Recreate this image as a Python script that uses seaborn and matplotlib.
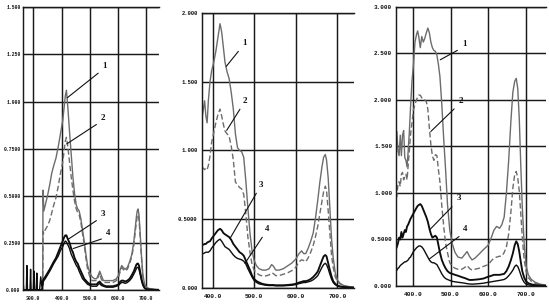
import matplotlib
matplotlib.use("Agg")
import matplotlib.pyplot as plt
import seaborn as sns
import pandas as pd

# ---------------- DATA ----------------
# Panel 1 (left)
wl_a = [262, 266, 275, 277, 279, 288, 290, 292, 300, 302,
        304, 310, 312, 314, 322, 326, 330, 333, 334, 337,
        342, 350, 358, 365, 372, 380, 388, 396, 404, 409,
        413, 417, 422, 428, 434, 440, 446, 452, 457, 462,
        468, 474, 480, 486, 492, 500, 508, 516, 524, 530,
        535, 540, 548, 558, 570, 582, 594, 602, 608, 613,
        618, 625, 633, 641, 649, 656, 661, 665, 668, 671,
        674, 678, 683, 688, 694, 700, 710, 722, 735, 745]
a1 = [0, 0, 0, 0, 0, 0, 0, 0, 0, 0,
      0, 0, 0, 0, 0, 0, 0, 0, 0.53, 0.42,
      0.45, 0.50, 0.56, 0.62, 0.66, 0.70, 0.76, 0.83, 0.90, 0.97,
      1.03, 1.06, 0.97, 0.84, 0.72, 0.60, 0.51, 0.45, 0.43, 0.42,
      0.38, 0.32, 0.26, 0.19, 0.13, 0.09, 0.07, 0.06, 0.06, 0.08,
      0.10, 0.08, 0.05, 0.05, 0.05, 0.05, 0.06, 0.08, 0.11, 0.13,
      0.12, 0.11, 0.12, 0.15, 0.19, 0.26, 0.33, 0.39, 0.42, 0.43,
      0.40, 0.31, 0.18, 0.08, 0.03, 0.015, 0.008, 0.005, 0.003, 0.002]
a2 = [0, 0, 0, 0, 0, 0, 0, 0, 0, 0,
      0, 0, 0, 0, 0, 0, 0, 0, 0.31, 0.30,
      0.32, 0.34, 0.37, 0.41, 0.45, 0.49, 0.55, 0.62, 0.68, 0.74,
      0.79, 0.81, 0.76, 0.68, 0.60, 0.53, 0.47, 0.43, 0.41, 0.40,
      0.36, 0.30, 0.24, 0.17, 0.11, 0.07, 0.05, 0.05, 0.05, 0.07,
      0.09, 0.06, 0.04, 0.04, 0.04, 0.04, 0.05, 0.07, 0.10, 0.12,
      0.11, 0.10, 0.11, 0.14, 0.18, 0.24, 0.31, 0.36, 0.39, 0.40,
      0.38, 0.29, 0.17, 0.07, 0.03, 0.012, 0.006, 0.004, 0.002, 0.001]
a3 = [0, 0, 0, 0, 0, 0, 0, 0, 0, 0,
      0, 0, 0, 0, 0, 0, 0, 0.03, 0.05, 0.06,
      0.07, 0.09, 0.11, 0.13, 0.15, 0.17, 0.20, 0.23, 0.26, 0.28,
      0.29, 0.29, 0.27, 0.25, 0.22, 0.20, 0.17, 0.15, 0.14, 0.12,
      0.10, 0.08, 0.06, 0.05, 0.04, 0.03, 0.03, 0.03, 0.03, 0.04,
      0.045, 0.035, 0.025, 0.02, 0.02, 0.02, 0.025, 0.03, 0.045, 0.05,
      0.05, 0.045, 0.05, 0.06, 0.08, 0.10, 0.12, 0.135, 0.14, 0.14,
      0.13, 0.10, 0.06, 0.03, 0.01, 0.005, 0.003, 0.002, 0.001, 0.001]
a4 = [0.07, 0, 0, 0.13, 0, 0, 0.11, 0, 0, 0.10,
      0, 0, 0.09, 0, 0, 0.07, 0.02, 0.03, 0.04, 0.05,
      0.06, 0.08, 0.10, 0.12, 0.14, 0.16, 0.18, 0.21, 0.23, 0.25,
      0.26, 0.255, 0.24, 0.22, 0.19, 0.17, 0.15, 0.13, 0.12, 0.10,
      0.08, 0.06, 0.05, 0.04, 0.03, 0.025, 0.02, 0.02, 0.02, 0.03,
      0.035, 0.025, 0.02, 0.015, 0.015, 0.015, 0.02, 0.025, 0.035, 0.04,
      0.04, 0.035, 0.04, 0.05, 0.065, 0.085, 0.10, 0.115, 0.12, 0.12,
      0.11, 0.085, 0.05, 0.025, 0.01, 0.004, 0.002, 0.001, 0.001, 0.001]

# Panel 2 (middle)
wl_b = [374, 378, 381, 384, 387, 390, 394, 398, 403, 408,
        413, 418, 422, 426, 430, 435, 440, 445, 450, 455,
        460, 465, 470, 475, 480, 485, 490, 495, 500, 506,
        512, 520, 528, 536, 542, 546, 552, 560, 570, 580,
        590, 600, 608, 614, 619, 624, 630, 636, 642, 648,
        653, 658, 663, 667, 671, 674, 678, 682, 686, 690,
        695, 700, 706, 714, 724, 740]
b1 = [1.22, 1.30, 1.36, 1.25, 1.20, 1.36, 1.50, 1.58, 1.64, 1.72,
      1.82, 1.92, 1.86, 1.75, 1.64, 1.57, 1.52, 1.42, 1.30, 1.12,
      1.02, 1.00, 0.99, 0.95, 0.78, 0.58, 0.40, 0.27, 0.20, 0.16,
      0.14, 0.13, 0.13, 0.14, 0.17, 0.16, 0.13, 0.13, 0.14, 0.16,
      0.18, 0.21, 0.25, 0.27, 0.25, 0.25, 0.29, 0.34, 0.40, 0.52,
      0.64, 0.77, 0.88, 0.95, 0.97, 0.93, 0.80, 0.58, 0.36, 0.22,
      0.11, 0.06, 0.035, 0.02, 0.012, 0.006]
b2 = [0.88, 0.87, 0.86, 0.87, 0.86, 0.89, 0.96, 1.06, 1.13, 1.20,
      1.26, 1.30, 1.25, 1.19, 1.14, 1.12, 1.10, 1.03, 0.93, 0.77,
      0.75, 0.73, 0.72, 0.68, 0.54, 0.37, 0.26, 0.17, 0.13, 0.11,
      0.095, 0.088, 0.088, 0.095, 0.11, 0.105, 0.09, 0.09, 0.10, 0.11,
      0.125, 0.15, 0.19, 0.205, 0.20, 0.19, 0.22, 0.26, 0.31, 0.38,
      0.45, 0.54, 0.63, 0.70, 0.74, 0.71, 0.56, 0.40, 0.24, 0.15,
      0.08, 0.05, 0.03, 0.02, 0.01, 0.005]
b3 = [0.31, 0.315, 0.32, 0.32, 0.33, 0.335, 0.34, 0.36, 0.38, 0.40,
      0.42, 0.43, 0.42, 0.40, 0.39, 0.38, 0.37, 0.35, 0.32, 0.30,
      0.28, 0.26, 0.25, 0.235, 0.20, 0.165, 0.13, 0.09, 0.065, 0.05,
      0.04, 0.03, 0.025, 0.022, 0.022, 0.022, 0.02, 0.02, 0.02, 0.022,
      0.025, 0.03, 0.04, 0.045, 0.05, 0.05, 0.055, 0.065, 0.08, 0.10,
      0.12, 0.16, 0.20, 0.23, 0.24, 0.23, 0.18, 0.13, 0.085, 0.05,
      0.03, 0.018, 0.012, 0.008, 0.005, 0.003]
b4 = [0.25, 0.25, 0.255, 0.26, 0.26, 0.26, 0.27, 0.29, 0.31, 0.33,
      0.345, 0.355, 0.34, 0.32, 0.30, 0.29, 0.28, 0.26, 0.24, 0.225,
      0.215, 0.21, 0.205, 0.195, 0.175, 0.14, 0.11, 0.08, 0.055, 0.04,
      0.03, 0.025, 0.02, 0.018, 0.018, 0.018, 0.016, 0.016, 0.016, 0.018,
      0.02, 0.025, 0.032, 0.036, 0.04, 0.04, 0.045, 0.05, 0.06, 0.075,
      0.09, 0.12, 0.15, 0.17, 0.18, 0.17, 0.14, 0.10, 0.065, 0.04,
      0.024, 0.015, 0.01, 0.006, 0.004, 0.002]

# Panel 3 (right)
wl_c = [355, 358, 361, 364, 367, 370, 373, 376, 379, 382,
        385, 388, 391, 394, 398, 402, 406, 410, 413, 416,
        420, 424, 428, 432, 436, 440, 444, 448, 452, 456,
        460, 464, 468, 472, 477, 482, 487, 492, 498, 505,
        512, 520, 530, 538, 544, 550, 557, 565, 575, 587,
        600, 608, 615, 622, 630, 636, 642, 648, 654, 660,
        665, 670, 674, 678, 682, 686, 690, 695, 700, 706,
        714, 724, 737, 752]
c1 = [1.50, 1.66, 1.45, 1.40, 1.62, 1.40, 1.62, 1.67, 1.38, 1.35,
      1.28, 1.45, 1.65, 1.90, 2.20, 2.38, 2.62, 2.70, 2.74, 2.68,
      2.56, 2.68, 2.62, 2.66, 2.72, 2.77, 2.72, 2.62, 2.56, 2.53,
      2.52, 2.48, 2.38, 2.25, 1.95, 1.58, 1.25, 0.88, 0.60, 0.45,
      0.36, 0.31, 0.30, 0.34, 0.37, 0.32, 0.28, 0.30, 0.34, 0.39,
      0.44, 0.52, 0.60, 0.64, 0.62, 0.66, 0.74, 1.00, 1.35, 1.78,
      2.08, 2.20, 2.23, 2.12, 1.80, 1.30, 0.85, 0.45, 0.22, 0.12,
      0.07, 0.04, 0.02, 0.01]
c2 = [0.94, 0.96, 1.10, 1.12, 1.07, 1.20, 1.22, 1.14, 1.18, 1.20,
      1.14, 1.30, 1.45, 1.62, 1.75, 1.89, 1.95, 2.00, 2.03, 2.05,
      2.05, 2.02, 2.00, 2.00, 1.98, 1.90, 1.70, 1.52, 1.40, 1.35,
      1.41, 1.40, 1.25, 1.12, 0.86, 0.64, 0.46, 0.36, 0.25, 0.21,
      0.19, 0.18, 0.18, 0.20, 0.22, 0.19, 0.17, 0.18, 0.19, 0.21,
      0.23, 0.27, 0.30, 0.31, 0.32, 0.32, 0.36, 0.42, 0.56, 0.80,
      1.05, 1.20, 1.23, 1.16, 1.02, 0.78, 0.52, 0.28, 0.16, 0.09,
      0.05, 0.03, 0.015, 0.008]
c3 = [0.39, 0.42, 0.46, 0.52, 0.50, 0.58, 0.52, 0.56, 0.60, 0.58,
      0.64, 0.66, 0.69, 0.72, 0.75, 0.78, 0.81, 0.84, 0.86, 0.87,
      0.88, 0.86, 0.82, 0.78, 0.74, 0.69, 0.62, 0.56, 0.52, 0.53,
      0.54, 0.52, 0.44, 0.36, 0.28, 0.23, 0.19, 0.16, 0.14, 0.13,
      0.12, 0.11, 0.095, 0.085, 0.075, 0.065, 0.065, 0.068, 0.072, 0.08,
      0.10, 0.11, 0.12, 0.12, 0.12, 0.125, 0.13, 0.16, 0.21, 0.28,
      0.35, 0.44, 0.48, 0.45, 0.37, 0.26, 0.16, 0.09, 0.05, 0.03,
      0.018, 0.01, 0.006, 0.003]
c4 = [0.15, 0.17, 0.19, 0.20, 0.22, 0.23, 0.24, 0.25, 0.26, 0.26,
      0.27, 0.28, 0.30, 0.31, 0.34, 0.37, 0.39, 0.41, 0.42, 0.43,
      0.43, 0.42, 0.40, 0.37, 0.34, 0.31, 0.28, 0.26, 0.25, 0.25,
      0.24, 0.23, 0.20, 0.17, 0.13, 0.10, 0.08, 0.07, 0.06, 0.05,
      0.045, 0.04, 0.035, 0.03, 0.025, 0.022, 0.02, 0.022, 0.025, 0.03,
      0.04, 0.045, 0.05, 0.055, 0.06, 0.065, 0.07, 0.085, 0.11, 0.14,
      0.17, 0.21, 0.225, 0.21, 0.17, 0.12, 0.075, 0.04, 0.02, 0.012,
      0.008, 0.005, 0.003, 0.002]

# tick values / labels
xticks_a = [300, 400, 500, 600, 700]
xticks_bc = [400, 500, 600, 700]
yticks_a = [0, 0.25, 0.5, 0.75, 1.0, 1.25, 1.5]
ylabels_a = ["0.000", "0.2500", "0.5000", "0.7500", "1.000", "1.250", "1.500"]
yticks_b = [0, 0.5, 1.0, 1.5, 2.0]
ylabels_b = ["0.000", "0.5000", "1.000", "1.500", "2.000"]
yticks_c = [0, 0.5, 1.0, 1.5, 2.0, 2.5, 3.0]
ylabels_c = ["0.000", "0.5000", "1.000", "1.500", "2.000", "2.500", "3.000"]

curve_names = ["1", "2", "3", "4"]
# annotation: label position -> pointed position on curve
ann_a = [((553, 1.19), (420, 1.02)), ((547, 0.915), (418, 0.775)),
         ((547, 0.405), (424, 0.27)), ((565, 0.30), (441, 0.22))]
ann_b = [((476, 1.78), (433, 1.61)), ((478, 1.36), (434, 1.145)),
         ((517, 0.75), (442, 0.36)), ((532, 0.43), (478, 0.18))]
ann_c = [((536, 2.60), (473, 2.43)), ((527, 1.99), (448, 1.66)),
         ((521, 0.94), (444, 0.60)), ((540, 0.61), (444, 0.29))]

# ---------------- STYLE ----------------
sns.set_style("white")
plt.rcParams["font.family"] = ["Liberation Mono", "DejaVu Sans Mono"]

styles = [dict(color="#6c6c6c", linewidth=1.0, linestyle="-"),
          dict(color="#6c6c6c", linewidth=1.0, linestyle=(0, (4, 2))),
          dict(color="#0d0d0d", linewidth=1.35, linestyle="-"),
          dict(color="#0d0d0d", linewidth=1.0, linestyle="-")]

fig = plt.figure(figsize=(5.49, 3.04), dpi=100)
fig.patch.set_facecolor("white")

panels = [
    dict(pos=[0.0413, 0.046, 0.2483, 0.930], wl=wl_a, ys=[a1, a2, a3, a4],
         xlim=(262, 745), ylim=(0, 1.5), xt=xticks_a, yt=yticks_a, yl=ylabels_a,
         ann=ann_a, yfs=3.4, xfs=3.5, pad=1.5),
    dict(pos=[0.3674, 0.0526, 0.2774, 0.9056], wl=wl_b, ys=[b1, b2, b3, b4],
         xlim=(374, 740), ylim=(0, 2.0), xt=xticks_bc, yt=yticks_b, yl=ylabels_b,
         ann=ann_b, yfs=4.0, xfs=4.4, pad=3.0),
    dict(pos=[0.7208, 0.0592, 0.2732, 0.9188], wl=wl_c, ys=[c1, c2, c3, c4],
         xlim=(355, 752), ylim=(0, 3.0), xt=xticks_bc, yt=yticks_c, yl=ylabels_c,
         ann=ann_c, yfs=4.3, xfs=4.5, pad=2.5),
]

for p in panels:
    ax = fig.add_axes(p["pos"])
    for name, y, st in zip(curve_names, p["ys"], styles):
        df = pd.DataFrame({"wavelength": p["wl"], "value": y})
        sns.lineplot(data=df, x="wavelength", y="value", ax=ax, **st)
    ax.set_xlim(*p["xlim"])
    ax.set_ylim(*p["ylim"])
    ax.set_xticks(p["xt"])
    ax.set_xticklabels([f"{v:.1f}" for v in p["xt"]])
    ax.set_yticks(p["yt"])
    ax.set_yticklabels(p["yl"])
    ax.set_xlabel("")
    ax.set_ylabel("")
    ax.grid(True, color="#1a1a1a", linewidth=1.05)
    ax.set_axisbelow(True)
    for side in ["left", "top", "bottom"]:
        ax.spines[side].set_visible(True)
        ax.spines[side].set_color("#1a1a1a")
        ax.spines[side].set_linewidth(1.05)
    ax.spines["right"].set_visible(False)
    ax.tick_params(axis="both", length=0, colors="#111111")
    ax.tick_params(axis="y", pad=p["pad"], labelsize=p["yfs"])
    ax.tick_params(axis="x", pad=4.0, labelsize=p["xfs"])
    for lab in ax.get_xticklabels() + ax.get_yticklabels():
        lab.set_fontweight("bold")
    for name, (txt, pt) in zip(curve_names, p["ann"]):
        ax.annotate(name, xy=pt, xytext=txt, textcoords="data",
                    ha="center", va="center", fontsize=6.5, fontweight="bold",
                    family=["Liberation Serif", "DejaVu Serif"], color="#111111",
                    arrowprops=dict(arrowstyle="-", color="#111111", lw=0.8,
                                    shrinkA=1, shrinkB=0, relpos=(0.0, 0.0)))

fig.savefig("out.png", dpi=100, facecolor="white")
